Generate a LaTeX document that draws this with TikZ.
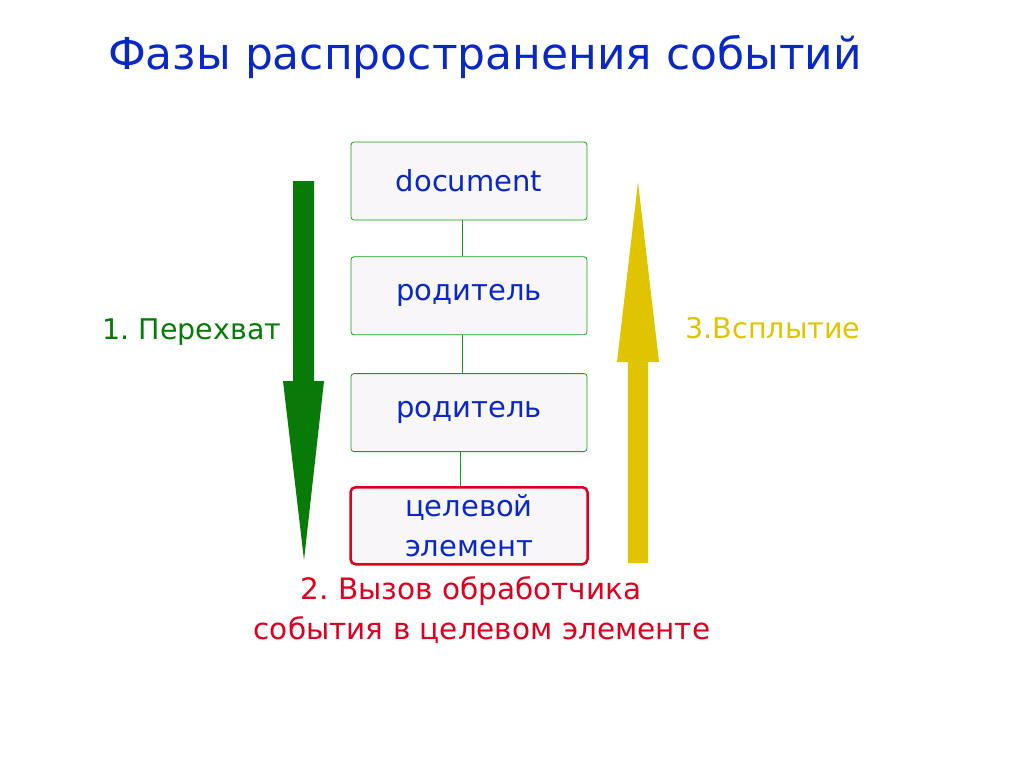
\documentclass[tikz,border=0pt]{standalone}
\usepackage{fontspec}
\setmainfont{DejaVu Sans}
\usetikzlibrary{positioning}

\definecolor{titleblue}{RGB}{10,40,200}
\definecolor{boxgreen}{RGB}{20,160,20}
\definecolor{darkgreen}{RGB}{8,122,8}
\definecolor{gold}{RGB}{224,196,0}
\definecolor{targetred}{RGB}{222,0,30}
\definecolor{boxfill}{RGB}{248,246,248}

\begin{document}
\frenchspacing
\begin{tikzpicture}[
    x=1pt, y=-1pt,
    node distance=36pt,
    every node/.style={align=center, inner sep=0pt},
    level/.style={rectangle, draw=boxgreen, line width=0.8pt, rounded corners=3pt, fill=boxfill,
        minimum width=236pt, minimum height=78pt, text=titleblue, font=\fontsize{29}{40}\selectfont},
    target/.style={level, draw=targetred, line width=2.5pt, rounded corners=5pt,
        minimum width=237pt, minimum height=77pt},
    link/.style={draw=boxgreen, line width=0.8pt},
    label/.style={font=\fontsize{28.5}{40}\selectfont}
]
\useasboundingbox (0,0) rectangle (1024,768);

% TITLE
\node[text=titleblue, font=\fontsize{44}{50}\selectfont] (title) at (485,57) {Фазы распространения событий};

% NODES
\node[level] (doc) at (469,181) {document};
\node[level, below=36pt of doc] (parent1) {родитель};
\node[level, below=38pt of parent1] (parent2) {родитель};
\node[target, below=34pt of parent2] (elem) {целевой\\элемент};

% LINKS
\draw[link] ([xshift=-7pt]doc.south) -- ([xshift=-7pt]parent1.north);
\draw[link] ([xshift=-7pt]parent1.south) -- ([xshift=-7pt]parent2.north);
\draw[link] ([xshift=-9pt]parent2.south) -- ([xshift=-9pt]elem.north);

% PHASE ARROWS
\fill[darkgreen] (293,181) -- (314,181) -- (314,381) -- (324,381) -- (304,560)
    -- (283,381) -- (293,381) -- cycle;
\fill[gold] (628,563) -- (648,563) -- (648,362) -- (659,362) -- (638,182)
    -- (617,362) -- (628,362) -- cycle;

% LABELS
\node[label, text=darkgreen] (capture) at (192,332) {1. Перехват};
\node[label, text=gold] (bubble) at (773,328) {3.Всплытие};
\node[label, text=targetred, font=\fontsize{29.5}{40}\selectfont] (call) at (482,610)
    {2. Вызов обработчика\hspace*{22pt}\\события в целевом элементе};

\end{tikzpicture}
\end{document}
